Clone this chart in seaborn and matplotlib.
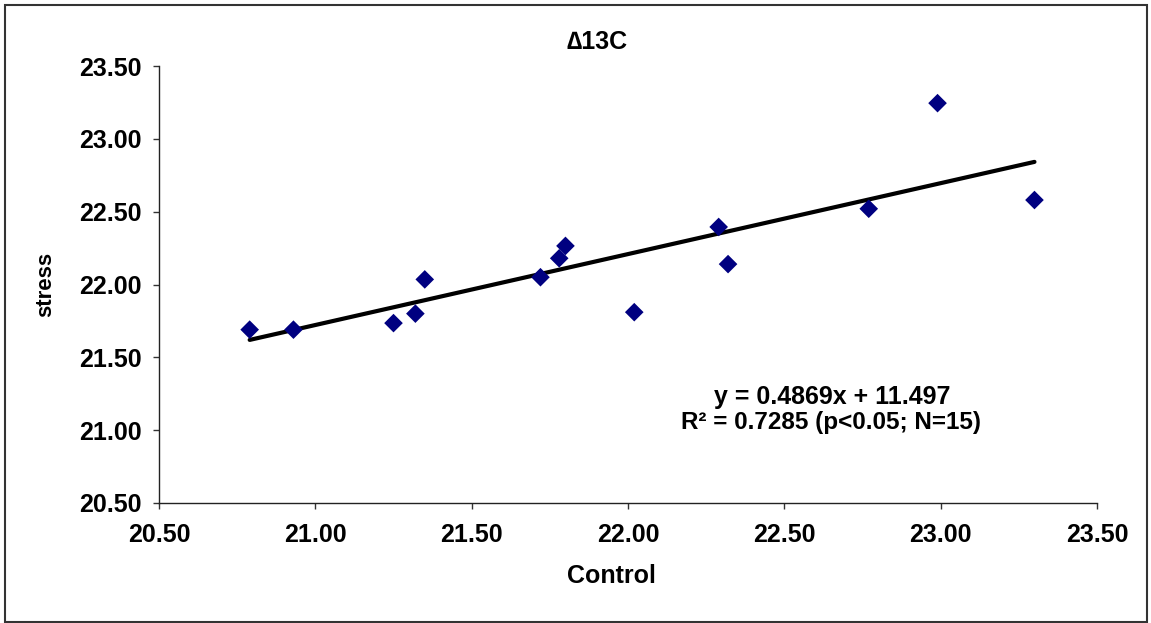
import numpy as np
import pandas as pd
import matplotlib
matplotlib.use("Agg")
import matplotlib.pyplot as plt
from matplotlib.patches import Rectangle
import seaborn as sns

# Carbon isotope discrimination, control vs. stress treatment
control = [20.79, 20.93, 21.25, 21.32, 21.35, 21.72, 21.78, 21.80,
           22.02, 22.29, 22.32, 22.77, 22.99, 23.30]
stress = [21.69, 21.69, 21.735, 21.80, 22.035, 22.05, 22.18, 22.265,
          21.81, 22.395, 22.14, 22.52, 23.245, 22.58]

# Linear fit reported on the chart
slope = 0.4869
intercept = 11.497
fit_x = [20.79, 23.30]

ticks = [20.50, 21.00, 21.50, 22.00, 22.50, 23.00, 23.50]

sns.set_style("ticks")
plt.rcParams["font.family"] = ["Liberation Sans", "DejaVu Sans"]
plt.rcParams["font.weight"] = "bold"
plt.rcParams["text.color"] = "black"
plt.rcParams["axes.labelcolor"] = "black"
plt.rcParams["xtick.color"] = "black"
plt.rcParams["ytick.color"] = "black"

fig = plt.figure(figsize=(11.51, 6.23), dpi=100)
ax = fig.add_axes([159 / 1151, 1 - 503 / 623, 938 / 1151, 437 / 623])

df = pd.DataFrame({"Control": control, "stress": stress})
sns.scatterplot(data=df, x="Control", y="stress", ax=ax, marker="D",
                s=90, color="#000080", edgecolor="none", zorder=3)

fit_df = pd.DataFrame({"x": fit_x,
                       "y": [slope * v + intercept for v in fit_x]})
sns.lineplot(data=fit_df, x="x", y="y", ax=ax, color="black",
             linewidth=3.0, zorder=2)

ax.set_xlim(20.5, 23.5)
ax.set_ylim(20.5, 23.5)
ax.set_xticks(ticks)
ax.set_yticks(ticks)
ax.set_xticklabels([f"{t:.2f}" for t in ticks])
ax.set_yticklabels([f"{t:.2f}" for t in ticks])
ax.tick_params(axis="both", direction="out", length=4.3, width=1,
               color="#333333", labelcolor="black", labelsize=18)
ax.tick_params(axis="x", pad=10)
ax.tick_params(axis="y", pad=8)
for lab in ax.get_xticklabels() + ax.get_yticklabels():
    lab.set_fontweight("bold")

for side in ["top", "right"]:
    ax.spines[side].set_visible(False)
for side in ["left", "bottom"]:
    ax.spines[side].set_color("#222222")
    ax.spines[side].set_linewidth(1)

ax.set_xlabel("Control", fontsize=18, fontweight="bold", va="center")
ax.xaxis.set_label_coords((611 - 159) / 938, -(576 - 503) / 437)
ax.set_ylabel("stress", fontsize=16, fontweight="bold", va="center")
ax.yaxis.set_label_coords((46 - 159) / 938, 0.5)

fig.text(597 / 1151, 1 - 42 / 623, "∆13C", ha="center", va="center",
         fontsize=18, fontweight="bold")

ax.text((832 - 159) / 938, (503 - 397) / 437, "y = 0.4869x + 11.497",
        transform=ax.transAxes, ha="center", va="center",
        fontsize=18, fontweight="bold")
ax.text((831 - 159) / 938, (503 - 422) / 437, "R² = 0.7285 (p<0.05; N=15)",
        transform=ax.transAxes, ha="center", va="center",
        fontsize=17.5, fontweight="bold")

fig.patches.append(Rectangle((5 / 1151, 1 / 623), 1142 / 1151, 617 / 623,
                             transform=fig.transFigure, fill=False,
                             edgecolor="#333333", linewidth=1.5))

fig.savefig("out.png", dpi=100, facecolor="white")
